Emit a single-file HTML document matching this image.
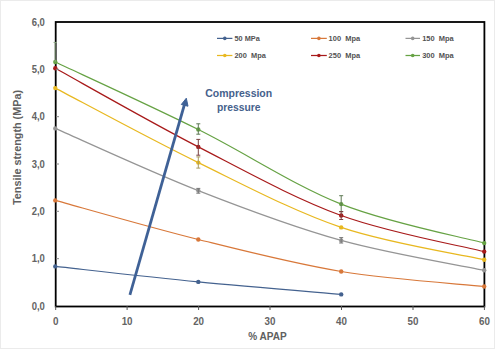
<!DOCTYPE html>
<html><head><meta charset="utf-8"><style>
html,body{margin:0;padding:0;background:#fff;}
svg{display:block;}
text{font-family:"Liberation Sans",sans-serif;}
</style></head><body>
<svg width="495" height="349" viewBox="0 0 495 349">
<rect x="0" y="0" width="495" height="349" fill="#fff"/>
<rect x="0.5" y="0.5" width="494" height="348" fill="none" stroke="#ebebeb" stroke-width="1"/>
<!-- plot -->
<rect x="55.7" y="22" width="428.7" height="284.5" fill="none" stroke="#000" stroke-width="1.8"/>
<g>
<path d="M55.30,62.00 C79.13,73.25 150.65,105.82 198.30,129.50 C245.95,153.18 293.55,185.17 341.20,204.10 C388.85,223.03 460.37,236.60 484.20,243.10" fill="none" stroke="#66A244" stroke-width="1.2"/>
<path d="M55.30,68.30 C79.13,81.40 150.65,122.37 198.30,146.90 C245.95,171.43 293.55,198.05 341.20,215.50 C388.85,232.95 460.37,245.58 484.20,251.60" fill="none" stroke="#A81A1A" stroke-width="1.2"/>
<path d="M55.30,88.10 C79.13,100.52 150.65,139.38 198.30,162.60 C245.95,185.82 293.55,211.22 341.20,227.40 C388.85,243.58 460.37,254.32 484.20,259.70" fill="none" stroke="#E8B820" stroke-width="1.2"/>
<path d="M55.30,128.40 C79.13,138.77 150.65,171.93 198.30,190.60 C245.95,209.27 293.55,227.12 341.20,240.40 C388.85,253.68 460.37,265.32 484.20,270.30" fill="none" stroke="#959595" stroke-width="1.2"/>
<path d="M55.30,200.40 C79.13,206.92 150.65,227.65 198.30,239.50 C245.95,251.35 293.55,263.67 341.20,271.50 C388.85,279.33 460.37,284.00 484.20,286.50" fill="none" stroke="#D8783A" stroke-width="1.2"/>
<path d="M55.30,266.40 C79.13,268.98 150.65,277.23 198.30,281.90 C245.95,286.57 317.38,292.32 341.20,294.40" fill="none" stroke="#44628F" stroke-width="1.2"/>
<circle cx="55.3" cy="62.0" r="2.2" fill="#66A244"/>
<circle cx="198.3" cy="129.5" r="2.2" fill="#66A244"/>
<circle cx="341.2" cy="204.1" r="2.2" fill="#66A244"/>
<circle cx="484.2" cy="243.1" r="2.2" fill="#66A244"/>
<circle cx="55.3" cy="68.3" r="2.2" fill="#A81A1A"/>
<circle cx="198.3" cy="146.9" r="2.2" fill="#A81A1A"/>
<circle cx="341.2" cy="215.5" r="2.2" fill="#A81A1A"/>
<circle cx="484.2" cy="251.6" r="2.2" fill="#A81A1A"/>
<circle cx="55.3" cy="88.1" r="2.2" fill="#E8B820"/>
<circle cx="198.3" cy="162.6" r="2.2" fill="#E8B820"/>
<circle cx="341.2" cy="227.4" r="2.2" fill="#E8B820"/>
<circle cx="484.2" cy="259.7" r="2.2" fill="#E8B820"/>
<circle cx="55.3" cy="128.4" r="2.2" fill="#959595"/>
<circle cx="198.3" cy="190.6" r="2.2" fill="#959595"/>
<circle cx="341.2" cy="240.4" r="2.2" fill="#959595"/>
<circle cx="484.2" cy="270.3" r="2.2" fill="#959595"/>
<circle cx="55.3" cy="200.4" r="2.2" fill="#D8783A"/>
<circle cx="198.3" cy="239.5" r="2.2" fill="#D8783A"/>
<circle cx="341.2" cy="271.5" r="2.2" fill="#D8783A"/>
<circle cx="484.2" cy="286.5" r="2.2" fill="#D8783A"/>
<circle cx="55.3" cy="266.4" r="2.2" fill="#44628F"/>
<circle cx="198.3" cy="281.9" r="2.2" fill="#44628F"/>
<circle cx="341.2" cy="294.4" r="2.2" fill="#44628F"/>
<path d="M198.3,123.8 V134.2 M196.3,123.8 H200.3 M196.3,134.2 H200.3" stroke="#5f7a55" stroke-width="1" fill="none"/>
<path d="M341.2,195.7 V211.8 M339.2,195.7 H343.2 M339.2,211.8 H343.2" stroke="#5f7a55" stroke-width="1" fill="none"/>
<path d="M198.3,139.4 V155.2 M196.3,139.4 H200.3 M196.3,155.2 H200.3" stroke="#7a4040" stroke-width="1" fill="none"/>
<path d="M341.2,211.5 V219.5 M339.2,211.5 H343.2 M339.2,219.5 H343.2" stroke="#7a4040" stroke-width="1" fill="none"/>
<path d="M198.3,156.9 V168.1 M196.3,156.9 H200.3 M196.3,168.1 H200.3" stroke="#a89a60" stroke-width="1" fill="none"/>
<path d="M198.3,188.4 V193.2 M196.3,188.4 H200.3 M196.3,193.2 H200.3" stroke="#777777" stroke-width="1" fill="none"/>
<path d="M341.2,237.6 V243.0 M339.2,237.6 H343.2 M339.2,243.0 H343.2" stroke="#777777" stroke-width="1" fill="none"/>
<path d="M55.2,42.4 V62 M53.5,42.4 H57" stroke="#8aa580" stroke-width="0.9" fill="none"/>
</g>
<!-- x ticks -->
<path d="M55.7,306 V310 M127.1,306 V310 M198.6,306 V310 M270,306 V310 M341.5,306 V310 M413,306 V310 M484.4,306 V310" stroke="#555" stroke-width="1"/>
<!-- y ticks inside -->
<path d="M56,258.7 H59 M56,211.3 H59 M56,164 H59 M56,116.7 H59 M56,69.3 H59" stroke="#888" stroke-width="1"/>
<g font-weight="bold" font-size="10" fill="#646464">
<text x="31.7" y="25.5" textLength="13.2" lengthAdjust="spacingAndGlyphs">6,0</text>
<text x="31.7" y="72.8" textLength="13.2" lengthAdjust="spacingAndGlyphs">5,0</text>
<text x="31.7" y="120.2" textLength="13.2" lengthAdjust="spacingAndGlyphs">4,0</text>
<text x="31.7" y="167.5" textLength="13.2" lengthAdjust="spacingAndGlyphs">3,0</text>
<text x="31.7" y="214.8" textLength="13.2" lengthAdjust="spacingAndGlyphs">2,0</text>
<text x="31.7" y="262.2" textLength="13.2" lengthAdjust="spacingAndGlyphs">1,0</text>
<text x="31.7" y="309.8" textLength="13.2" lengthAdjust="spacingAndGlyphs">0,0</text>
<text x="52.88" y="324.7" font-size="10" textLength="5.5" lengthAdjust="spacingAndGlyphs">0</text>
<text x="121.65" y="324.7" font-size="10" textLength="10.9" lengthAdjust="spacingAndGlyphs">10</text>
<text x="193.15" y="324.7" font-size="10" textLength="10.9" lengthAdjust="spacingAndGlyphs">20</text>
<text x="264.55" y="324.7" font-size="10" textLength="10.9" lengthAdjust="spacingAndGlyphs">30</text>
<text x="336.05" y="324.7" font-size="10" textLength="10.9" lengthAdjust="spacingAndGlyphs">40</text>
<text x="407.55" y="324.7" font-size="10" textLength="10.9" lengthAdjust="spacingAndGlyphs">50</text>
<text x="478.95" y="324.7" font-size="10" textLength="10.9" lengthAdjust="spacingAndGlyphs">60</text>
</g>
<text x="248.2" y="339.7" font-weight="bold" font-size="10.2" fill="#606060" textLength="38.5" lengthAdjust="spacingAndGlyphs">% APAP</text>
<text transform="translate(20.9,205) rotate(-90)" font-weight="bold" font-size="10.75" fill="#606060" textLength="115" lengthAdjust="spacingAndGlyphs">Tensile strength (MPa)</text>
<!-- arrow -->
<line x1="129.9" y1="294.9" x2="184.6" y2="104" stroke="#3F6196" stroke-width="2.75"/>
<path d="M186.3,98.2 L181.3,104.5 L188,106.2 Z" fill="#3F6196" stroke="#3F6196" stroke-width="1" stroke-linejoin="round"/>
<g font-weight="bold" font-size="11.4" fill="#45618C">
<text x="205.2" y="96.6" textLength="67" lengthAdjust="spacingAndGlyphs">Compression</text>
<text x="217" y="111.4" textLength="43.5" lengthAdjust="spacingAndGlyphs">pressure</text>
</g>
<!-- legend -->
<g stroke-width="1.25">
<line x1="217" y1="38.4" x2="232.4" y2="38.4" stroke="#44628F"/><circle cx="224.8" cy="38.4" r="1.8" fill="#44628F"/>
<line x1="311" y1="38.4" x2="326.8" y2="38.4" stroke="#D8783A"/><circle cx="318.9" cy="38.4" r="1.8" fill="#D8783A"/>
<line x1="405.5" y1="38.4" x2="420" y2="38.4" stroke="#959595"/><circle cx="412.7" cy="38.4" r="1.8" fill="#959595"/>
<line x1="217" y1="55.5" x2="232.4" y2="55.5" stroke="#E8B820"/><circle cx="224.8" cy="55.5" r="1.8" fill="#E8B820"/>
<line x1="311" y1="55.5" x2="326.8" y2="55.5" stroke="#A81A1A"/><circle cx="318.9" cy="55.5" r="1.8" fill="#A81A1A"/>
<line x1="405.5" y1="55.5" x2="420" y2="55.5" stroke="#66A244"/><circle cx="412.7" cy="55.5" r="1.8" fill="#66A244"/>
</g>
<g font-size="7.2" font-weight="bold" fill="#525252" style="white-space:pre">
<text x="234.5" y="40.9" textLength="25.3" lengthAdjust="spacingAndGlyphs">50 MPa</text>
<text x="328.6" y="40.9" textLength="31.5" lengthAdjust="spacingAndGlyphs">100&#160; Mpa</text>
<text x="422.2" y="40.9" textLength="31.6" lengthAdjust="spacingAndGlyphs">150&#160; Mpa</text>
<text x="234.5" y="57.8" textLength="31.3" lengthAdjust="spacingAndGlyphs">200&#160; Mpa</text>
<text x="328.6" y="57.8" textLength="31.5" lengthAdjust="spacingAndGlyphs">250&#160; Mpa</text>
<text x="422.2" y="57.8" textLength="31.6" lengthAdjust="spacingAndGlyphs">300&#160; Mpa</text>
</g>
</svg>
</body></html>
